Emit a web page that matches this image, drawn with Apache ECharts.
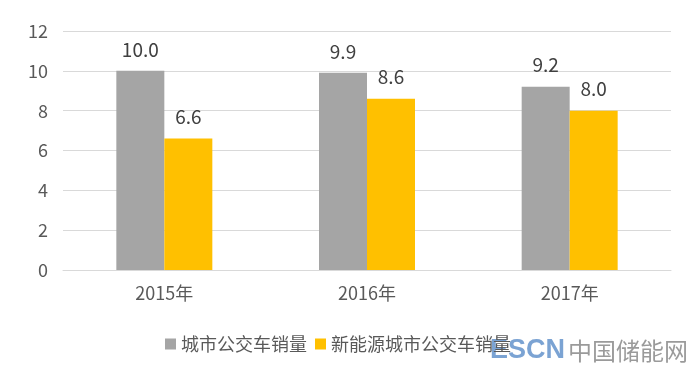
<!DOCTYPE html>
<html><head><meta charset="utf-8">
<script src="https://cdn.jsdelivr.net/npm/echarts@6/dist/echarts.min.js"></script>
<style>html,body{margin:0;padding:0;background:#fff}#c{width:699px;height:370px}</style>
</head><body><div id="c"></div>
<script>
const categories = ['2015年', '2016年', '2017年'];
const busSales = [10.0, 9.9, 9.2];
const nevBusSales = [6.6, 8.6, 8.0];
const seriesNames = ['城市公交车销量', '新能源城市公交车销量'];

const font = '"Noto Sans CJK SC", "Microsoft YaHei", sans-serif';
const chart = echarts.init(document.getElementById('c'));
chart.setOption({
  animation: false,
  textStyle: { fontFamily: font },
  grid: { left: 63, right: 28, top: 31, bottom: 100 },
  legend: {
    bottom: 12, left: 160,
    itemWidth: 11, itemHeight: 11, itemGap: 8,
    icon: 'rect',
    textStyle: { fontSize: 18, color: '#595959', fontFamily: font },
    data: seriesNames
  },
  xAxis: {
    type: 'category', data: categories,
    axisLine: { lineStyle: { color: '#d9d9d9' } },
    axisTick: { show: false },
    axisLabel: { fontSize: 18, color: '#595959', margin: 14, fontFamily: font }
  },
  yAxis: {
    type: 'value', min: 0, max: 12, interval: 2,
    axisLine: { show: false }, axisTick: { show: false },
    splitLine: { lineStyle: { color: '#d9d9d9' } },
    axisLabel: { fontSize: 18, color: '#595959', margin: 15, fontFamily: font }
  },
  series: [
    { name: seriesNames[0], type: 'bar', data: busSales, barWidth: 48, barGap: '0%',
      itemStyle: { color: '#a5a5a5' },
      label: { show: true, position: 'top', distance: 12, fontSize: 19, color: '#404040',
        formatter: p => p.value.toFixed(1) } },
    { name: seriesNames[1], type: 'bar', data: nevBusSales, barWidth: 48,
      itemStyle: { color: '#ffc000' },
      label: { show: true, position: 'top', distance: 12, fontSize: 19, color: '#404040',
        formatter: p => p.value.toFixed(1) } }
  ],
  graphic: [
    { type: 'text', left: 490, top: 337, style: { text: 'ESCN', fontSize: 27, fontWeight: 'bold', fill: 'rgba(90,140,200,0.8)', fontFamily: 'Liberation Sans Narrow, Liberation Sans, sans-serif' } },
    { type: 'text', left: 568, top: 339, style: { text: '中国储能网', fontSize: 24, fill: 'rgba(120,120,120,0.75)', fontFamily: font } }
  ]
});
</script></body></html>
